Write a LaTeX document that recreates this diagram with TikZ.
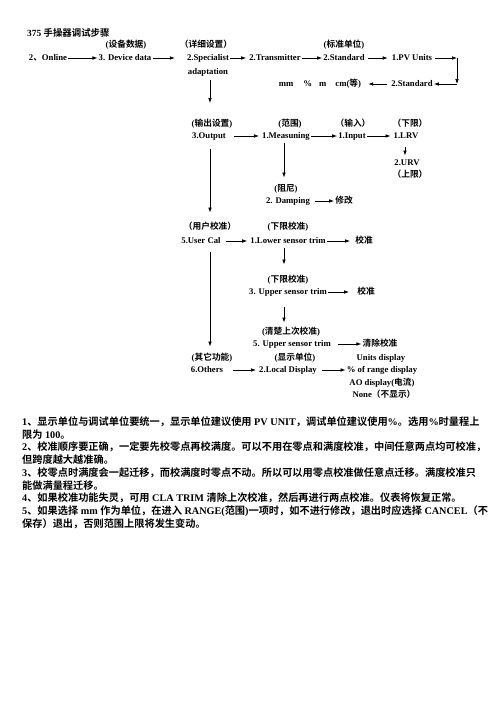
\documentclass[tikz,border=0pt]{standalone}
\usepackage{fontspec}
\setmainfont{Liberation Serif}
\newfontfamily\zhfont{Noto Sans CJK SC}[BoldFont={Noto Sans CJK SC Bold}]
\newcommand\z[1]{{\zhfont #1}}
\usetikzlibrary{arrows.meta}
\begin{document}
\begin{tikzpicture}[x=1pt,y=-1pt,
  lab/.style={font=\fontsize{8.7}{10}\selectfont\bfseries, inner sep=1pt, text height=6.5pt, text depth=2pt},
  ttl/.style={font=\fontsize{9.4}{11}\selectfont\bfseries, inner sep=0pt, anchor=west},
  note/.style={font=\fontsize{10.2}{12}\selectfont\bfseries, inner sep=0pt, anchor=west, text height=7.5pt, text depth=2.5pt},
  arr/.style={draw=black, line width=0.7pt, -{Latex[length=5pt,width=3.6pt]}}]
\useasboundingbox[fill=white] (0,0) rectangle (496,702);
\coordinate (colA) at (210,0);
\coordinate (colB) at (284,0);
\coordinate (colC) at (405,0);

% title
\node[ttl] (title) at (27,33) {375 \z{手操器调试步骤}};

% row 1
\node[lab] (l1) at (126,45) {(\z{设备数据})};
\node[lab] (l2) at (206,45) {\z{（详细设置）}};
\node[lab] (l3) at (344,45) {(\z{标准单位})};
\node[lab] (online) at (48,58) {2\z{、}Online};
\node[lab] (devdata) at (125,58) {3. Device data};
\node[lab] (spec) at (208,58) {2.Specialist};
\node[lab] (adapt) at (208,72) {adaptation};
\node[lab] (trans) at (275,58) {2.Transmitter};
\node[lab] (std1) at (344,58) {2.Standard};
\node[lab] (pv) at (412,58) {1.PV Units};
\node[lab] (std2) at (412,84) {2.Standard};
\node[lab] (units) at (320,84) {mm\hspace{10pt}\%\hspace{7pt}m\hspace{9pt}cm(\z{等})};
\coordinate (c1) at (457,58);
\coordinate (c2) at (457,84);
\coordinate (e1) at (210,103);

\draw[arr] (online) -- (devdata);
\draw[arr, shorten >=11pt] (devdata) -- (spec);
\draw[arr, shorten >=2pt] (spec) -- (trans);
\draw[arr] (trans) -- (std1);
\draw[arr, shorten <=2pt, shorten >=3pt] (std1) -- (pv);
\draw[arr, shorten <=2pt] (pv) -- (c1);
\draw[arr] (c1) -- (c2);
\draw[arr] (c2) -- (std2);
\draw[arr, shorten <=3pt, shorten >=6pt] (std2) -- (units);
\draw[arr, shorten <=3pt] (adapt.south -| colA) -- (e1);

% row 2
\node[lab] (l4) at (212,124) {(\z{输出设置})};
\node[lab] (output) at (209,136) {3.Output};
\node[lab] (l5) at (290,124) {(\z{范围})};
\node[lab] (meas) at (286,136) {1.Measuning};
\node[lab] (l6) at (353,124) {\z{（输入）}};
\node[lab] (input) at (352,136) {1.Input};
\node[lab] (l7) at (410,124) {\z{（下限）}};
\node[lab] (lrv) at (406,136) {1.LRV};
\node[lab] (urv) at (407,163) {2.URV};
\node[lab] (l8) at (410,175) {\z{（上限）}};
\node[lab] (l9) at (286,189) {(\z{阻尼})};
\node[lab] (damp) at (288,201) {2. Damping};
\node[lab] (xiugai) at (344,201) {\z{修改}};

\draw[arr, shorten <=7pt, shorten >=2pt] (output) -- (meas);
\draw[arr] (meas) -- (input);
\draw[arr, shorten >=2pt] (input) -- (lrv);
\draw[arr, shorten <=6pt, shorten >=2pt] (lrv.south -| colC) -- (urv.north -| colC);
\draw[arr, shorten <=2pt, shorten >=6pt] (meas.south -| colB) -- (l9.north -| colB);
\draw[arr, shorten <=4pt] (damp) -- (xiugai);

% row 3
\node[lab] (l10) at (210,227) {\z{（用户校准）}};
\node[lab] (usercal) at (201,241) {5.User Cal};
\node[lab] (l11) at (288,227) {(\z{下限校准})};
\node[lab] (lower) at (288,241) {1.Lower sensor trim};
\node[lab] (jz1) at (364,241) {\z{校准}};
\node[lab] (l12) at (288,280) {(\z{下限校准})};
\node[lab] (upper) at (288,292) {3. Upper sensor trim};
\node[lab] (jz2) at (366,292) {\z{校准}};
\node[lab] (l13) at (291,332) {(\z{清楚上次校准})};
\node[lab] (upper2) at (292,344) {5. Upper sensor trim};
\node[lab] (qc) at (380,344) {\z{清除校准}};

\draw[arr, shorten <=8pt, shorten >=9pt] (output.south -| colA) -- (l10.north -| colA);
\draw[arr, shorten <=4pt, shorten >=2pt] (usercal) -- (lower);
\draw[arr, shorten >=4pt] (lower) -- (jz1);
\draw[arr, shorten <=2pt, shorten >=10pt] (lower.south -| colB) -- (l12.north -| colB);
\draw[arr, shorten >=7pt] (upper) -- (jz2);
\draw[arr, shorten <=10pt, shorten >=4pt] (upper.south -| colB) -- (l13.north -| colB);
\draw[arr, shorten <=6pt] (upper2) -- (qc);

% row 4
\node[lab] (l14) at (212,358) {(\z{其它功能})};
\node[lab] (l15) at (295,358) {(\z{显示单位})};
\node[lab] (ud) at (381,358) {Units display};
\node[lab] (others) at (207,370) {6.Others};
\node[lab] (local) at (288,370) {2.Local Display};
\node[lab] (range) at (382,370) {\% of range display};
\node[lab] (ao) at (382,383) {AO display(\z{电流})};
\node[lab] (none) at (384,395) {None\z{（不显示）}};

\draw[arr, shorten <=6pt, shorten >=6pt] (usercal.south -| colA) -- (l14.north -| colA);
\draw[arr, shorten <=9pt, shorten >=2pt] (others) -- (local);
\draw[arr, shorten <=4pt] (local) -- (range);

% notes
\node[note] (n1) at (22,423) {1\z{、显示单位与调试单位要统一，显示单位建议使用} PV UNIT\z{，调试单位建议使用}\%\z{。选用}\%\z{时量程上}};
\node[note] (n2) at (22,435.7) {\z{限为} 100\z{。}};
\node[note] (n3) at (22,448.4) {2\z{、校准顺序要正确，一定要先校零点再校满度。可以不用在零点和满度校准，中间任意两点均可校准，}};
\node[note] (n4) at (22,461.1) {\z{但跨度越大越准确。}};
\node[note] (n5) at (22,473.8) {3\z{、校零点时满度会一起迁移，而校满度时零点不动。所以可以用零点校准做任意点迁移。满度校准只}};
\node[note] (n6) at (22,486.5) {\z{能做满量程迁移。}};
\node[note] (n7) at (22,499.2) {4\z{、如果校准功能失灵，可用} CLA TRIM \z{清除上次校准，然后再进行两点校准。仪表将恢复正常。}};
\node[note] (n8) at (22,511.9) {5\z{、如果选择} mm \z{作为单位，在进入} RANGE(\z{范围})\z{一项时，如不进行修改，退出时应选择} CANCEL\z{（不}};
\node[note] (n9) at (22,524.6) {\z{保存）退出，否则范围上限将发生变动。}};
\end{tikzpicture}
\end{document}
